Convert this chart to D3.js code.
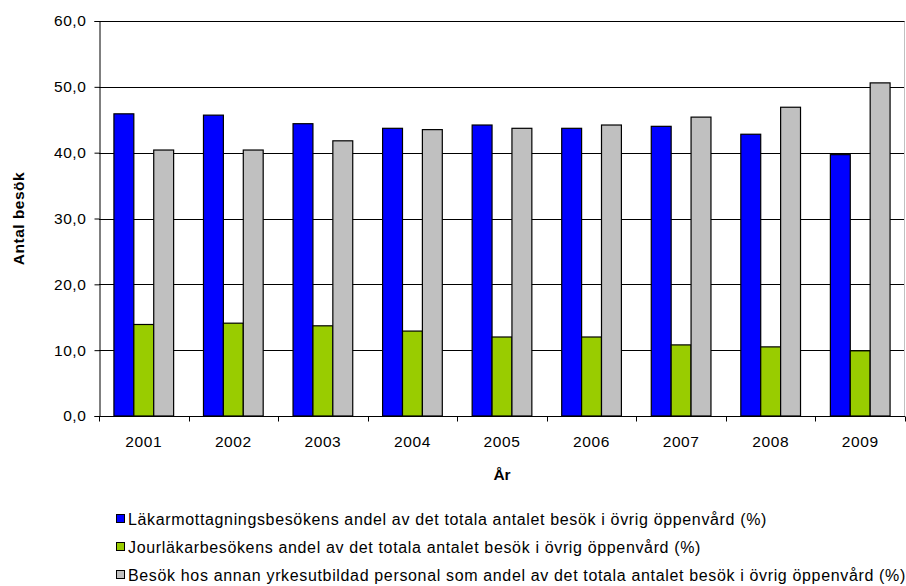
<!DOCTYPE html>
<html>
<head>
<meta charset="utf-8">
<script src="https://cdn.jsdelivr.net/npm/d3@7/dist/d3.min.js"></script>
<style>
  html, body { margin: 0; padding: 0; background: #fff; }
  svg { display: block; font-family: "Liberation Sans", Arial, sans-serif; }
</style>
</head>
<body>
<svg id="chart" width="906" height="586"></svg>
<script>
// Years on the category axis
const years = ["2001", "2002", "2003", "2004", "2005", "2006", "2007", "2008", "2009"];

// Share of all visits in other outpatient care (%)
const lakarmottagning = [45.9, 45.7, 44.4, 43.7, 44.2, 43.7, 44.0, 42.8, 39.7];
const jourlakare      = [13.9, 14.1, 13.7, 12.9, 12.0, 12.0, 10.8, 10.5, 9.9];
const annanPersonal   = [40.4, 40.4, 41.8, 43.5, 43.7, 44.2, 45.4, 46.9, 50.6];

const seriesNames = [
  "Läkarmottagningsbesökens andel av det totala antalet besök i övrig öppenvård (%)",
  "Jourläkarbesökens andel av det totala antalet besök i övrig öppenvård (%)",
  "Besök hos annan yrkesutbildad personal som andel av det totala antalet besök i övrig öppenvård (%)"
];
const seriesColors = ["#0000FF", "#99CC00", "#C0C0C0"];
const yTicks = [0, 10, 20, 30, 40, 50, 60];

const series = [lakarmottagning, jourlakare, annanPersonal];

const svg = d3.select("#chart");
const plot = { left: 99, right: 905, top: 21, bottom: 416 };

const x = d3.scaleBand().domain(years).range([plot.left, plot.right]).paddingInner(0).paddingOuter(0);
const y = d3.scaleLinear().domain([0, 60]).range([plot.bottom, plot.top]);

const fmt = v => d3.format(".1f")(v).replace(".", ",");

// Horizontal gridlines
svg.append("g")
  .selectAll("line")
  .data(yTicks.filter(t => t > 0))
  .join("line")
  .attr("x1", plot.left).attr("x2", plot.right)
  .attr("y1", d => Math.round(y(d)) + 0.5).attr("y2", d => Math.round(y(d)) + 0.5)
  .attr("stroke", "#000").attr("stroke-width", 1);

// Right border of the plot area
svg.append("line")
  .attr("x1", plot.right - 0.5).attr("x2", plot.right - 0.5)
  .attr("y1", Math.round(y(60)) + 0.5).attr("y2", plot.bottom)
  .attr("stroke", "#c0c0c0");

// Bars
const bw = x.bandwidth();
const barW = bw / 4.5;
const groups = svg.append("g")
  .selectAll("g")
  .data(years)
  .join("g")
  .attr("transform", d => `translate(${x(d)},0)`);

groups.selectAll("rect")
  .data((d, i) => series.map((s, k) => ({ k, v: s[i] })))
  .join("rect")
  .attr("x", d => barW * 0.75 + d.k * barW)
  .attr("y", d => y(d.v))
  .attr("width", barW)
  .attr("height", d => y(0) - y(d.v))
  .attr("fill", d => seriesColors[d.k])
  .attr("stroke", "#000")
  .attr("stroke-width", 1.2);

// Y axis
const yAxis = d3.axisLeft(y).tickValues(yTicks).tickSize(5).tickPadding(8).tickFormat(fmt);
const gy = svg.append("g")
  .attr("transform", `translate(${plot.left + 0.5},0)`)
  .call(yAxis);
gy.select(".domain").attr("stroke", "#000");
gy.selectAll(".tick line").attr("stroke", "#000");
gy.selectAll(".tick text").attr("font-size", 15.5).attr("fill", "#000")
  .attr("letter-spacing", 0.6)
  .attr("font-family", "Liberation Sans, Arial, sans-serif");

// X axis with ticks between categories
const gx = svg.append("g").attr("transform", `translate(0,${plot.bottom + 0.5})`);
gx.append("line")
  .attr("x1", plot.left).attr("x2", plot.right)
  .attr("stroke", "#000");
gx.selectAll("line.tk")
  .data(years.concat(["end"]))
  .join("line")
  .attr("class", "tk")
  .attr("x1", (d, i) => Math.round(plot.left + i * bw) + 0.5)
  .attr("x2", (d, i) => Math.round(plot.left + i * bw) + 0.5)
  .attr("y1", 0).attr("y2", 5)
  .attr("stroke", "#000");
gx.selectAll("text")
  .data(years)
  .join("text")
  .attr("x", d => x(d) + bw / 2)
  .attr("y", 30)
  .attr("text-anchor", "middle")
  .attr("font-size", 15.5)
  .attr("letter-spacing", 0.6)
  .text(d => d);

// Axis titles
svg.append("text")
  .attr("x", (plot.left + plot.right) / 2)
  .attr("y", 480)
  .attr("text-anchor", "middle")
  .attr("font-size", 15.5).attr("font-weight", "bold")
  .text("År");

svg.append("text")
  .attr("transform", `translate(24,${(plot.top + plot.bottom) / 2}) rotate(-90)`)
  .attr("text-anchor", "middle")
  .attr("font-size", 15.5).attr("font-weight", "bold")
  .attr("letter-spacing", 0.5)
  .text("Antal besök");

// Legend
const legend = svg.append("g")
  .selectAll("g")
  .data(seriesNames)
  .join("g")
  .attr("transform", (d, i) => `translate(116,${519 + i * 28})`);
legend.append("rect")
  .attr("x", 0.5).attr("y", -4.5)
  .attr("width", 8).attr("height", 8)
  .attr("fill", (d, i) => seriesColors[i])
  .attr("stroke", "#000");
legend.append("text")
  .attr("x", 12).attr("y", 0)
  .attr("dy", "0.36em")
  .attr("font-size", 16)
  .attr("letter-spacing", 0.65)
  .text(d => d);
</script>
</body>
</html>
